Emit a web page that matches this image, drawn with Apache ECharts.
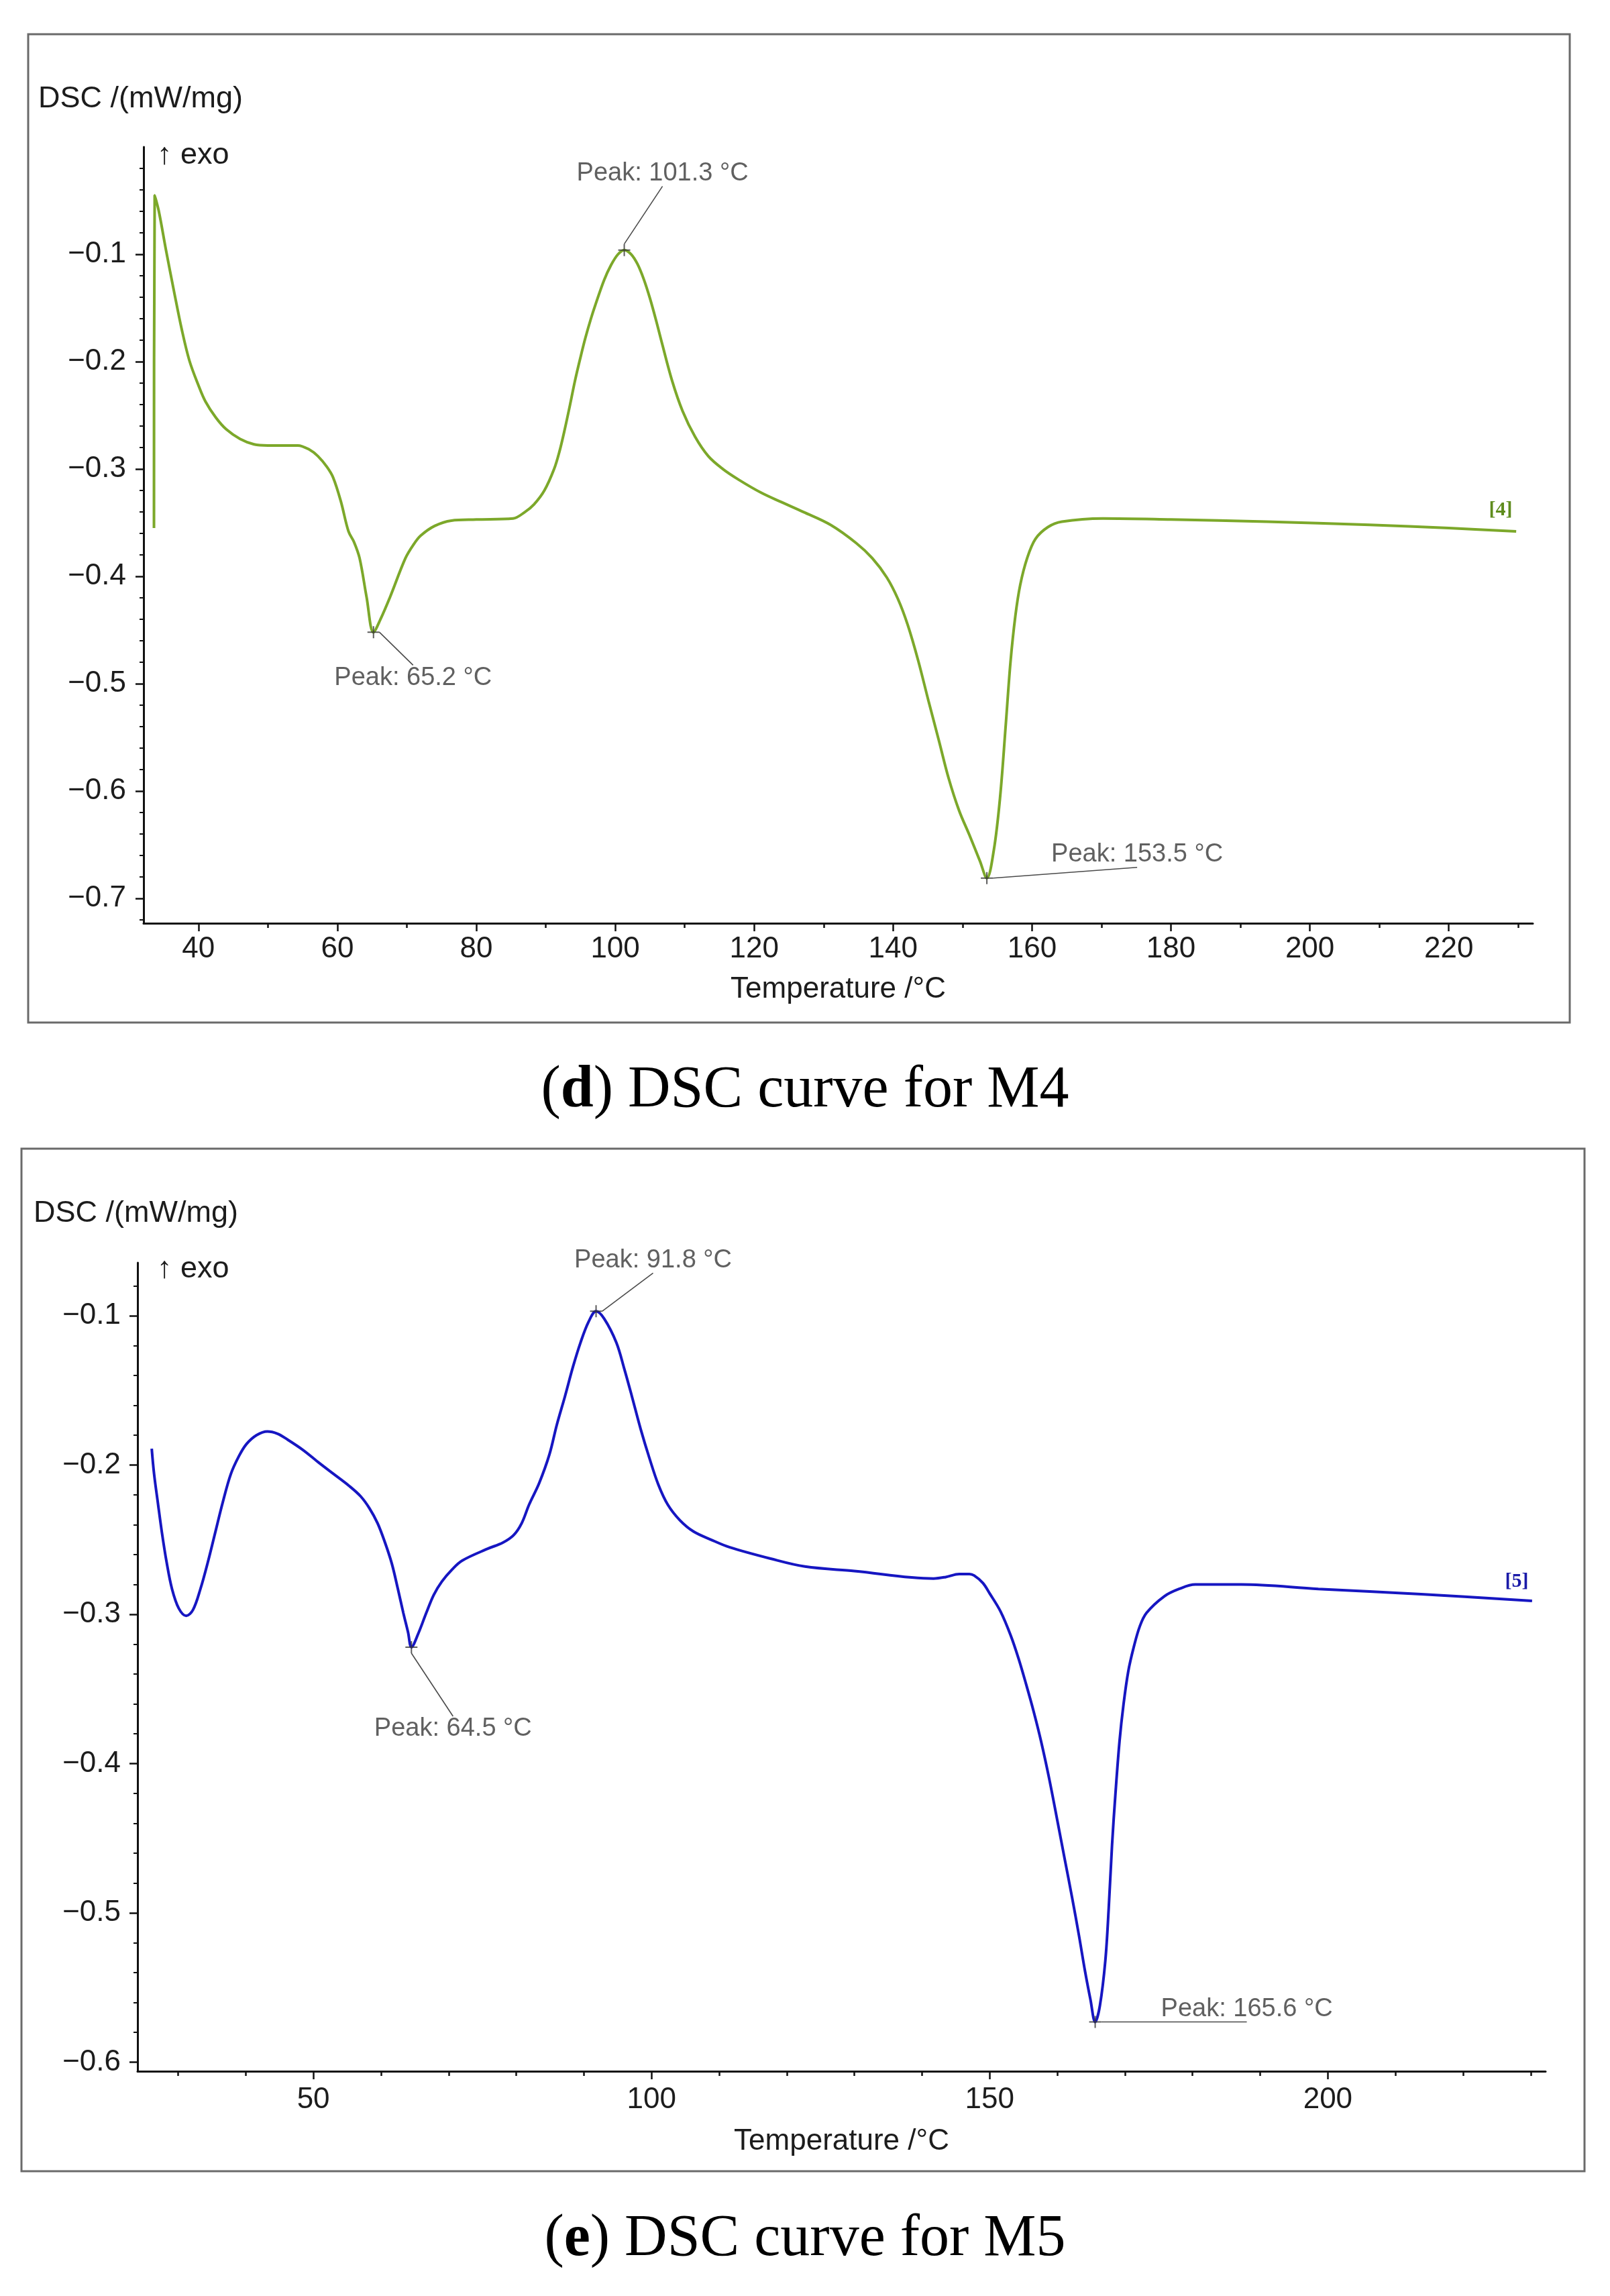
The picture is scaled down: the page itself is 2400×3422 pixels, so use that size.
<!DOCTYPE html>
<html>
<head>
<meta charset="utf-8">
<script src="https://cdn.jsdelivr.net/npm/echarts@6/dist/echarts.min.js"></script>
<style>
html,body{margin:0;padding:0;background:#ffffff;}
#c{width:2400px;height:3422px;}
</style>
</head>
<body>
<div id="c"></div>
<script>
// ---------------- DATA ----------------
// (d) M4 DSC curve
const m4Temp = [33.6, 33.7, 34.3, 35.3, 36.5, 37.6, 38.7, 40.0, 41.0, 42.5, 44.0, 46.0, 48.0, 50.0, 52.0, 54.3, 56.0, 57.2, 58.5, 59.4,
  60.5, 61.6, 62.4, 63.2, 64.2, 65.2, 66.2, 67.6, 69.8, 71.0, 72.0, 74.0, 76.4, 80.0, 85.3, 87.0, 88.3, 89.8, 91.2, 92.0,
  92.7, 93.5, 94.2, 95.0, 95.7, 96.5, 97.2, 98.4, 99.4, 100.4, 101.3, 102.3, 103.2, 104.1, 105.0, 105.9, 106.7, 108.2, 109.7, 111.5,
  113.4, 115.5, 117.8, 121.0, 124.0, 127.1, 131.0, 134.7, 137.0, 139.1, 140.7, 142.1, 143.6, 145.1, 146.6, 148.0, 149.5, 151.0, 152.5, 153.5,
  154.5, 155.4, 156.2, 156.9, 157.6, 158.3, 159.3, 160.5, 162.3, 164.3, 170.2, 180.0, 193.8, 208.6, 220.0, 229.7];
const m4Dsc = [-0.355, -0.045, -0.060, -0.095, -0.135, -0.170, -0.199, -0.222, -0.237, -0.252, -0.263, -0.272, -0.277, -0.278, -0.278, -0.278, -0.282, -0.288, -0.298, -0.308,
  -0.330, -0.358, -0.368, -0.383, -0.419, -0.452, -0.440, -0.419, -0.383, -0.370, -0.362, -0.353, -0.348, -0.347, -0.346, -0.340, -0.333, -0.320, -0.300, -0.283,
  -0.264, -0.240, -0.218, -0.196, -0.178, -0.160, -0.146, -0.124, -0.110, -0.100, -0.096, -0.100, -0.109, -0.123, -0.141, -0.162, -0.182, -0.218, -0.246, -0.270,
  -0.288, -0.300, -0.310, -0.322, -0.331, -0.340, -0.352, -0.369, -0.383, -0.401, -0.421, -0.445, -0.478, -0.516, -0.553, -0.588, -0.618, -0.641, -0.665, -0.681,
  -0.655, -0.606, -0.540, -0.480, -0.437, -0.408, -0.383, -0.365, -0.354, -0.349, -0.346, -0.347, -0.349, -0.352, -0.355, -0.358];
const m4PeakTemp = [101.3, 65.2, 153.5];
const m4PeakDsc = [-0.096, -0.452, -0.681];
const m4XTicks = [40, 60, 80, 100, 120, 140, 160, 180, 200, 220];
const m4XMinor = [50, 70, 90, 110, 130, 150, 170, 190, 210, 230];
const m4YTicks = [-0.7, -0.6, -0.5, -0.4, -0.3, -0.2, -0.1];
const m4YMinor = [-0.72, -0.68, -0.66, -0.64, -0.62, -0.58, -0.56, -0.54, -0.52, -0.48, -0.46, -0.44, -0.42,
  -0.38, -0.36, -0.34, -0.32, -0.28, -0.26, -0.24, -0.22, -0.18, -0.16, -0.14, -0.12, -0.08, -0.06, -0.04, -0.02];

// (e) M5 DSC curve
const m5Temp = [26.1, 26.45, 27.0, 27.6, 28.3, 29.1, 30.1, 31.2, 32.2, 33.3, 34.4, 35.5, 36.6, 37.8, 39.0, 40.1, 41.6, 43.2, 44.7, 46.2,
  48.5, 50.7, 53.0, 55.3, 57.0, 58.3, 59.5, 60.6, 61.6, 62.5, 63.3, 64.0, 64.5, 65.5, 66.7, 67.8, 69.0, 70.5, 72.0, 75.8,
  78.0, 79.6, 80.8, 81.9, 83.4, 84.9, 86.0, 87.2, 88.4, 89.5, 90.7, 91.8, 93.0, 94.8, 96.0, 97.1, 98.4, 99.7, 101.0, 102.4,
  104.2, 106.2, 108.8, 111.5, 117.6, 122.7, 130.0, 141.7, 143.5, 145.5, 147.0, 147.7, 149.0, 150.0, 151.6, 153.1, 154.3, 155.4, 156.5, 157.6,
  158.8, 160.0, 161.1, 162.2, 163.2, 164.1, 164.9, 165.6, 166.3, 167.1, 167.6, 168.1, 168.6, 169.2, 169.8, 170.5, 171.3, 172.2, 173.2, 175.8,
  178.0, 180.4, 187.2, 198.6, 213.8, 230.2];
const m5Dsc = [-0.189, -0.206, -0.225, -0.245, -0.265, -0.283, -0.296, -0.301, -0.297, -0.283, -0.265, -0.245, -0.225, -0.206, -0.194, -0.186, -0.180, -0.1775, -0.179, -0.183,
  -0.190, -0.198, -0.206, -0.214, -0.221, -0.229, -0.239, -0.252, -0.266, -0.283, -0.299, -0.312, -0.322, -0.313, -0.299, -0.287, -0.278, -0.270, -0.264, -0.256,
  -0.252, -0.247, -0.239, -0.2265, -0.212, -0.193, -0.173, -0.154, -0.134, -0.118, -0.104, -0.097, -0.102, -0.118, -0.136, -0.154, -0.176, -0.1955, -0.213, -0.2265,
  -0.237, -0.2445, -0.250, -0.255, -0.2627, -0.268, -0.271, -0.276, -0.275, -0.273, -0.273, -0.274, -0.279, -0.286, -0.298, -0.314, -0.330, -0.347, -0.365, -0.385,
  -0.410, -0.438, -0.464, -0.490, -0.515, -0.539, -0.558, -0.573, -0.562, -0.532, -0.497, -0.454, -0.420, -0.385, -0.360, -0.338, -0.322, -0.308, -0.299, -0.288,
  -0.283, -0.280, -0.280, -0.283, -0.2865, -0.291];
const m5PeakTemp = [91.8, 64.5, 165.6];
const m5PeakDsc = [-0.097, -0.322, -0.573];
const m5XTicks = [50, 100, 150, 200];
const m5XMinor = [30, 40, 60, 70, 80, 90, 110, 120, 130, 140, 160, 170, 180, 190, 210, 220, 230];
const m5YTicks = [-0.6, -0.5, -0.4, -0.3, -0.2, -0.1];
const m5YMinor = [-0.58, -0.56, -0.54, -0.52, -0.48, -0.46, -0.44, -0.42, -0.38, -0.36, -0.34, -0.32,
  -0.28, -0.26, -0.24, -0.22, -0.18, -0.16, -0.14, -0.12, -0.08];

// ---------------- STYLE / LAYOUT ----------------
const SANS = '"Liberation Sans", Arial, Helvetica, sans-serif';
const SERIF = '"Liberation Serif", "Times New Roman", serif';
const AX = '#111111';
const TXT = '#1c1c1c';
const GREEN = '#7ca82a';
const BLUE = '#1616c2';
const m4LabelOffsets = [[57, -114], [59, 68], [224, -35]];
const m5LabelOffsets = [[85, -76], [62, 122], [226, -19]];

function zip(a, b) { return a.map((v, i) => [v, b[i]]); }
function fmtY(v) { return (v < 0 ? '\u2212' : '') + Math.abs(v).toFixed(1); }
function peakText(t) { return 'Peak: ' + t.toFixed(1) + ' \u00B0C'; }

function mainX(grid, min, max, ticks, nameGap, margin) {
  return {
    type: 'value', gridIndex: grid, position: 'bottom', min: min, max: max,
    axisLine: { show: true, onZero: false, lineStyle: { color: AX, width: 3 } },
    axisTick: { show: true, customValues: ticks, length: 12, lineStyle: { color: AX, width: 2.5 } },
    axisLabel: { show: true, customValues: ticks, margin: margin, fontSize: 44, color: TXT, fontFamily: SANS },
    splitLine: { show: false }, minorTick: { show: false },
    name: 'Temperature /\u00B0C', nameLocation: 'middle', nameGap: nameGap,
    nameTextStyle: { fontSize: 44, color: TXT, fontFamily: SANS }
  };
}
function minorX(grid, min, max, ticks) {
  return {
    type: 'value', gridIndex: grid, position: 'bottom', min: min, max: max,
    axisLine: { show: false, onZero: false },
    axisTick: { show: true, customValues: ticks, length: 7, lineStyle: { color: AX, width: 2.5 } },
    axisLabel: { show: false }, splitLine: { show: false }
  };
}
function mainY(grid, min, max, ticks, margin) {
  return {
    type: 'value', gridIndex: grid, position: 'left', min: min, max: max,
    axisLine: { show: true, onZero: false, lineStyle: { color: AX, width: 3 } },
    axisTick: { show: true, customValues: ticks, length: 12, lineStyle: { color: AX, width: 2.5 } },
    axisLabel: { show: true, customValues: ticks, margin: margin, fontSize: 44, color: TXT, fontFamily: SANS, formatter: fmtY },
    splitLine: { show: false }
  };
}
function minorY(grid, min, max, ticks) {
  return {
    type: 'value', gridIndex: grid, position: 'left', min: min, max: max,
    axisLine: { show: false, onZero: false },
    axisTick: { show: true, customValues: ticks, length: 6, lineStyle: { color: AX, width: 2 } },
    axisLabel: { show: false }, splitLine: { show: false }
  };
}
function peakSeries(xi, yi, temps, dscs, offsets) {
  return {
    type: 'scatter', xAxisIndex: xi, yAxisIndex: yi, z: 5,
    data: zip(temps, dscs),
    symbol: 'path://M0,5 L10,5 M5,0 L5,10', symbolSize: 18,
    itemStyle: { color: 'none', borderColor: '#333333', borderWidth: 2 },
    label: {
      show: true, position: 'inside',
      formatter: p => peakText(temps[p.dataIndex]),
      fontSize: 38, color: '#383838', fontFamily: SANS,
      backgroundColor: 'rgba(255,255,255,0)', padding: [0, 480, 0, 480]
    },
    labelLayout: p => ({ dx: offsets[p.dataIndex][0], dy: offsets[p.dataIndex][1], moveOverlap: null, hideOverlap: false }),
    labelLine: { show: true, length2: 0, lineStyle: { color: '#4a4a4a', width: 1.6 } },
    emphasis: { disabled: true }
  };
}

const chart = echarts.init(document.getElementById('c'), null, { renderer: 'canvas', width: 2400, height: 3422 });

const option = {
  animation: false,
  backgroundColor: '#ffffff',
  grid: [
    { left: 214, top: 219, width: 2071, height: 1157, containLabel: false },
    { left: 205, top: 1882, width: 2099, height: 1205, containLabel: false }
  ],
  xAxis: [
    mainX(0, 32.1, 232.1, m4XTicks, 77, 17),
    mainX(1, 24.0, 232.2, m5XTicks, 83, 21),
    minorX(0, 32.1, 232.1, m4XMinor),
    minorX(1, 24.0, 232.2, m5XMinor)
  ],
  yAxis: [
    mainY(0, -0.723, 0.0, m4YTicks, 26),
    mainY(1, -0.606, -0.0645, m5YTicks, 25),
    minorY(0, -0.723, 0.0, m4YMinor),
    minorY(1, -0.606, -0.0645, m5YMinor)
  ],
  series: [
    {
      type: 'line', xAxisIndex: 0, yAxisIndex: 0, data: zip(m4Temp, m4Dsc),
      showSymbol: false, smooth: 0.35,
      lineStyle: { color: GREEN, width: 4 }, emphasis: { disabled: true }
    },
    {
      type: 'line', xAxisIndex: 1, yAxisIndex: 1, data: zip(m5Temp, m5Dsc),
      showSymbol: false, smooth: 0.35,
      lineStyle: { color: BLUE, width: 4 }, emphasis: { disabled: true }
    },
    peakSeries(0, 0, m4PeakTemp, m4PeakDsc, m4LabelOffsets),
    peakSeries(1, 1, m5PeakTemp, m5PeakDsc, m5LabelOffsets)
  ],
  graphic: [
    { type: 'rect', shape: { x: 42, y: 51, width: 2298, height: 1473 }, style: { fill: 'none', stroke: '#6a6a6a', lineWidth: 3 }, silent: true },
    { type: 'rect', shape: { x: 32, y: 1712, width: 2330, height: 1524 }, style: { fill: 'none', stroke: '#6a6a6a', lineWidth: 3 }, silent: true },
    { type: 'text', x: 57, y: 148, style: { text: 'DSC /(mW/mg)', fontSize: 45, fontFamily: SANS, fill: TXT, align: 'left', verticalAlign: 'middle' } },
    { type: 'text', x: 50, y: 1809, style: { text: 'DSC /(mW/mg)', fontSize: 45, fontFamily: SANS, fill: TXT, align: 'left', verticalAlign: 'middle' } },
    { type: 'text', x: 234, y: 232, style: { text: '\u2191 exo', fontSize: 45, fontFamily: SANS, fill: TXT, align: 'left', verticalAlign: 'middle' } },
    { type: 'text', x: 234, y: 1892, style: { text: '\u2191 exo', fontSize: 45, fontFamily: SANS, fill: TXT, align: 'left', verticalAlign: 'middle' } },
    { type: 'text', x: 2237, y: 760, style: { text: '[4]', fontSize: 30, fontWeight: 'bold', fontFamily: SERIF, fill: '#5f8c1e', align: 'center', verticalAlign: 'middle' } },
    { type: 'text', x: 2261, y: 2357, style: { text: '[5]', fontSize: 30, fontWeight: 'bold', fontFamily: SERIF, fill: '#1a1aa8', align: 'center', verticalAlign: 'middle' } },
    {
      type: 'text', x: 1200, y: 1626,
      style: {
        text: '{n|(}{b|d}{n|) DSC curve for M4}', align: 'center', verticalAlign: 'middle',
        rich: { n: { fontSize: 88, fontFamily: SERIF, fill: '#000000' }, b: { fontSize: 88, fontFamily: SERIF, fontWeight: 'bold', fill: '#000000' } }
      }
    },
    {
      type: 'text', x: 1200, y: 3338,
      style: {
        text: '{n|(}{b|e}{n|) DSC curve for M5}', align: 'center', verticalAlign: 'middle',
        rich: { n: { fontSize: 88, fontFamily: SERIF, fill: '#000000' }, b: { fontSize: 88, fontFamily: SERIF, fontWeight: 'bold', fill: '#000000' } }
      }
    }
  ]
};
chart.setOption(option);
</script>
</body>
</html>
